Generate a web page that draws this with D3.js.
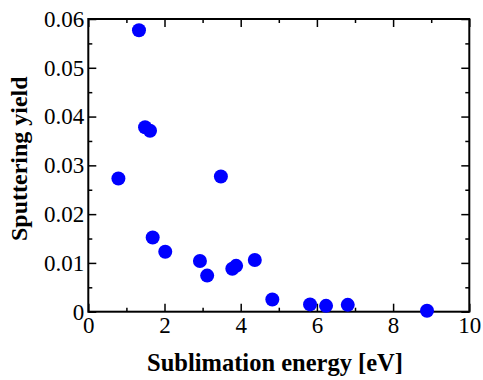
<!DOCTYPE html>
<html>
<head>
<meta charset="utf-8">
<script src="https://cdn.jsdelivr.net/npm/d3@7"></script>
<style>
  body { margin: 0; background: #fff; }
  svg text { font-family: 'Liberation Serif', serif; }
</style>
</head>
<body>
<div id="chart"></div>
<script>
// sublimation energy [eV] vs sputtering yield
const energy = [0.79, 1.33, 1.49, 1.62, 1.69, 2.02, 2.93, 3.12, 3.48, 3.78, 3.88, 4.37, 4.83, 5.82, 6.24, 6.81, 8.89];
const yieldVals = [0.0273, 0.0577, 0.0378, 0.0371, 0.0152, 0.0123, 0.0104, 0.0074, 0.0277, 0.0088, 0.0094, 0.0106, 0.0025, 0.0015, 0.0012, 0.0014, 0.0002];
const xTicks = [0, 2, 4, 6, 8, 10];
const xMinor = [1, 3, 5, 7, 9];
const yTicks = [0, 0.01, 0.02, 0.03, 0.04, 0.05, 0.06];
const yMinor = [0.005, 0.015, 0.025, 0.035, 0.045, 0.055];

const plotLeft = 88.3, plotRight = 469.3, plotTop = 19, plotBottom = 311.7;

const svg = d3.select('#chart')
  .append('svg')
  .attr('width', 483)
  .attr('height', 380);

const x = d3.scaleLinear().domain([0, 10]).range([plotLeft, plotRight]);
const y = d3.scaleLinear().domain([0, 0.06]).range([plotBottom, plotTop]);

const fmtY = (d) => (d === 0 ? '0' : d3.format('.2f')(d));

function styleAxis(g) {
  g.select('.domain').remove();
  g.attr('font-family', 'Liberation Serif').attr('font-size', 23);
  g.selectAll('line').attr('stroke', '#000').attr('stroke-width', 1.5);
  g.selectAll('text').attr('fill', '#000');
}

function addAxis(axis, tx, ty) {
  svg.append('g')
    .attr('transform', `translate(${tx},${ty})`)
    .call(axis)
    .call(styleAxis);
}

// major + minor ticks, pointing inward on all four sides
addAxis(d3.axisBottom(x).tickValues(xTicks).tickSize(-8).tickPadding(5).tickFormat(d3.format('d')), 0, plotBottom);
addAxis(d3.axisBottom(x).tickValues(xMinor).tickSize(-4).tickFormat(''), 0, plotBottom);
addAxis(d3.axisTop(x).tickValues(xTicks).tickSize(-8).tickFormat(''), 0, plotTop);
addAxis(d3.axisTop(x).tickValues(xMinor).tickSize(-4).tickFormat(''), 0, plotTop);
addAxis(d3.axisLeft(y).tickValues(yTicks).tickSize(-8).tickPadding(4).tickFormat(fmtY), plotLeft, 0);
addAxis(d3.axisLeft(y).tickValues(yMinor).tickSize(-4).tickFormat(''), plotLeft, 0);
addAxis(d3.axisRight(y).tickValues(yTicks).tickSize(-8).tickFormat(''), plotRight, 0);
addAxis(d3.axisRight(y).tickValues(yMinor).tickSize(-4).tickFormat(''), plotRight, 0);

// frame
svg.append('rect')
  .attr('x', plotLeft)
  .attr('y', plotTop)
  .attr('width', plotRight - plotLeft)
  .attr('height', plotBottom - plotTop)
  .attr('fill', 'none')
  .attr('stroke', '#000')
  .attr('stroke-width', 2);

// points
svg.append('g')
  .selectAll('circle')
  .data(energy.map((e, i) => [e, yieldVals[i]]))
  .enter()
  .append('circle')
  .attr('cx', (d) => x(d[0]))
  .attr('cy', (d) => y(d[1]))
  .attr('r', 7)
  .attr('fill', '#0000ff');

// axis titles
svg.append('text')
  .attr('x', 275)
  .attr('y', 370.5)
  .attr('text-anchor', 'middle')
  .attr('font-family', 'Liberation Serif')
  .attr('font-weight', 'bold')
  .attr('font-size', 24.5)
  .text('Sublimation energy [eV]');

svg.append('text')
  .attr('transform', 'translate(27,158.7) rotate(-90)')
  .attr('text-anchor', 'middle')
  .attr('font-family', 'Liberation Serif')
  .attr('font-weight', 'bold')
  .attr('font-size', 24)
  .text('Sputtering yield');
</script>
</body>
</html>
